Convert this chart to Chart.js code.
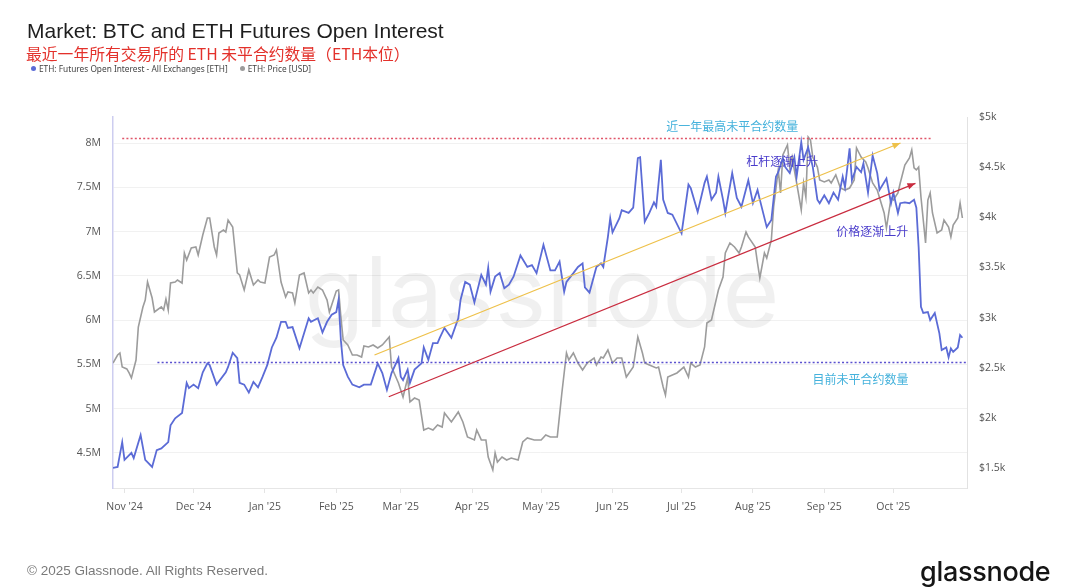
<!DOCTYPE html>
<html>
<head>
<meta charset="utf-8">
<script src="https://cdn.jsdelivr.net/npm/chart.js@4.4.1/dist/chart.umd.min.js"></script>
<style>
html,body{margin:0;padding:0;background:#fff;width:1079px;height:588px;overflow:hidden;}
#wrap{position:relative;width:1079px;height:588px;}
#c{position:absolute;left:0;top:0;}
.title{position:absolute;left:27px;top:19px;font:21px "Liberation Sans",Arial,sans-serif;color:#1e1e1e;white-space:nowrap;}
.sub{position:absolute;left:26px;top:42px;font:15.8px "Noto Sans CJK SC","Noto Sans",sans-serif;color:#e3312b;white-space:nowrap;}
.legend{position:absolute;left:31px;top:63px;font:8.3px "Noto Sans","Open Sans",sans-serif;color:#444;white-space:nowrap;}
.legend span.dot{display:inline-block;width:5px;height:5px;border-radius:50%;margin-right:3px;vertical-align:1px;}
.legend span.item{margin-right:12px;}
.foot{position:absolute;left:27px;top:563px;font:13.5px "Liberation Sans",Arial,sans-serif;color:#7a7a7a;white-space:nowrap;}
.logo{position:absolute;left:920px;top:555px;font:500 27px "Inter","Lato",sans-serif;color:#151515;letter-spacing:-0.3px;white-space:nowrap;}
</style>
</head>
<body>
<div id="wrap">
<canvas id="c" width="1079" height="588"></canvas>
<div class="title">Market: BTC and ETH Futures Open Interest</div>
<div class="sub">最近一年所有交易所的 ETH 未平合约数量（ETH本位）</div>
<div class="legend"><span class="item"><span class="dot" style="background:#5b6bd6"></span>ETH: Futures Open Interest - All Exchanges [ETH]</span><span class="item"><span class="dot" style="background:#9b9b9b"></span>ETH: Price [USD]</span></div>
<div class="foot">© 2025 Glassnode. All Rights Reserved.</div>
<div class="logo">glassnode</div>
</div>
<script>
// x values are days since 2024-11-01
const monthTickDays = [0,30,61,92,120,151,181,212,242,273,304,334];
const monthTickLabels = ["Nov '24","Dec '24","Jan '25","Feb '25","Mar '25","Apr '25","May '25","Jun '25","Jul '25","Aug '25","Sep '25","Oct '25"];
const oiTicks = [4.5,5,5.5,6,6.5,7,7.5,8];
const priceTicks = [1500,2000,2500,3000,3500,4000,4500,5000];

// ETH futures open interest, millions of ETH
const oiDays = [
 -5,-3,-1,0,3,4,7,9,12,14,
 16,19,20,22,25,27,28,30,32,34,
 36,37,40,44,45,47,49,50,52,54,
 56,58,60,62,64,66,68,70,71,73,
 76,80,81,84,86,88,90,92,93,94,
 95,97,99,102,104,107,110,112,114,116,
 119,120,121,123,124,126,129,130,132,134,
 136,137,139,142,145,146,148,150,152,155,
 157,158,159,161,163,165,167,169,172,175,
 177,179,182,185,187,189,191,192,195,197,
 199,200,202,205,207,208,210,211,212,215,
 216,219,221,223,224,226,228,230,231,233,
 234,236,238,242,245,246,249,252,253,255,
 257,258,260,261,264,266,268,271,273,275,
 276,279,281,283,284,286,287,289,291,292,
 294,295,297,299,301,302,304,306,308,310,
 312,313,315,316,318,320,321,323,325,327,
 328,331,333,334,336,337,339,341,343,344,
 345,346,347,349,350,352,354,355,357,358,
 359,360,362,363,364];
const oiValues = [
 4.33,4.34,4.62,4.42,4.50,4.44,4.70,4.42,4.34,4.53,
 4.55,4.62,4.81,4.89,4.95,5.29,5.23,5.27,5.23,5.41,
 5.51,5.49,5.27,5.41,5.47,5.63,5.57,5.29,5.27,5.18,
 5.30,5.24,5.36,5.49,5.69,5.80,5.98,5.98,5.91,5.92,
 5.68,6.02,5.98,6.02,5.86,5.98,6.06,6.09,6.23,5.77,
 5.49,5.36,5.27,5.24,5.27,5.27,5.51,5.40,5.21,5.40,
 5.57,5.36,5.32,5.44,5.29,5.44,5.51,5.69,5.55,5.74,
 5.74,5.80,5.91,5.80,6.02,6.23,6.43,6.40,6.20,6.51,
 6.40,6.59,6.32,6.49,6.53,6.36,6.40,6.49,6.73,6.60,
 6.62,6.53,6.85,6.56,6.56,6.66,6.32,6.43,6.53,6.60,
 6.64,6.37,6.31,6.60,6.64,6.60,6.94,7.15,6.99,7.15,
 7.24,7.21,7.27,7.83,7.84,7.11,7.21,7.33,7.28,7.81,
 7.36,7.21,7.19,6.98,7.53,7.49,7.22,7.55,7.62,7.36,
 7.44,7.62,7.36,7.21,7.66,7.38,7.28,7.58,7.32,7.47,
 7.36,7.05,7.13,7.62,7.67,7.83,7.73,7.66,7.84,7.62,
 8.01,7.81,7.95,7.73,7.36,7.32,7.41,7.32,7.44,7.36,
 7.62,7.50,7.94,7.58,7.73,7.67,7.77,7.44,7.86,7.66,
 7.47,7.60,7.32,7.44,7.21,7.32,7.33,7.32,7.36,7.27,
 6.82,6.15,6.08,6.09,6.00,6.08,5.85,5.66,5.69,5.58,
 5.68,5.64,5.69,5.83,5.80];

// ETH price, USD
const priceDays = [
 -5,-3,-2,-1,1,2,3,5,6,8,
 9,10,12,13,16,17,18,19,20,22,
 23,25,26,27,29,31,32,34,36,37,
 39,40,41,43,44,45,47,49,50,52,
 54,56,58,59,61,63,65,66,68,70,
 71,73,74,76,78,80,81,82,84,86,
 88,89,92,93,94,95,97,99,101,103,
 104,106,108,110,112,115,116,119,121,123,
 124,126,128,130,132,134,136,138,139,142,
 145,147,149,152,153,155,157,158,160,161,
 162,164,166,168,171,173,175,178,181,183,
 185,188,190,192,193,195,197,199,201,204,
 205,207,208,210,212,214,216,218,221,223,
 225,226,228,231,232,234,235,236,238,240,
 243,245,246,248,250,252,253,255,258,260,
 261,263,265,267,268,270,271,274,275,276,
 278,279,281,282,284,285,286,288,289,290,
 292,294,295,296,297,298,299,301,302,304,
 306,307,309,311,313,315,317,318,320,322,
 323,325,327,330,331,333,334,336,337,339,
 341,342,343,344,345,346,347,348,349,350,
 351,353,355,356,358,359,360,362,363,364];
const priceValues = [
 2547,2627,2647,2507,2488,2448,2398,2577,2906,3106,
 3175,3355,3195,3056,3106,3076,3185,3076,3345,3355,
 3375,3345,3644,3574,3694,3704,3624,3824,3993,3993,
 3704,3624,3843,3873,3853,3973,3903,3445,3425,3275,
 3475,3325,3375,3355,3345,3604,3624,3674,3355,3205,
 3255,3245,3146,3425,3445,3245,3275,3245,3305,3275,
 3175,3056,3265,3275,3006,2777,2727,2627,2627,2607,
 2717,2707,2727,2697,2727,2807,2507,2348,2208,2398,
 2159,2198,2178,1879,1899,1879,1929,1909,2049,1959,
 2059,1959,1810,1780,1879,1780,1780,1610,1481,1650,
 1560,1610,1580,1600,1580,1760,1800,1780,1780,1830,
 1810,1810,2248,2647,2577,2647,2547,2478,2547,2597,
 2527,2607,2597,2677,2547,2597,2597,2408,2507,2807,
 2647,2547,2527,2498,2507,2308,2228,2408,2428,2448,
 2507,2408,2547,2507,2527,2707,2946,2976,3275,3405,
 3644,3744,3704,3644,3704,3853,3804,3704,3544,3395,
 3644,3594,3774,4103,4472,4242,4621,4721,4501,4601,
 4342,4073,4342,4202,4801,4771,4601,4501,4372,4352,
 4372,4342,4422,4292,4272,4292,4372,4691,4601,4551,
 4492,4342,4272,4043,3893,4192,4172,4242,4342,4521,
 4591,4671,4492,4472,4501,4202,3973,3744,4172,4242,
 4043,3843,3873,3973,3903,3804,3923,3993,4143,3993];

// annotations (in data units: day, OI millions)
const refLines = [
  {label:'近一年最高未平合约数量', value:8.06, from:-1, to:351, color:'#e0566a', textColor:'#45b2dc', textDay:235.4, textValue:8.19},
  {label:'目前未平合约数量', value:5.53, from:14.3, to:366, color:'#5a50cf', textColor:'#45b2dc', textDay:298.9, textValue:5.33}
];
const trendArrows = [
  {label:'杠杆逐渐上升', from:[108.6,5.605], to:[337.1,8.0], color:'#eec14a', textColor:'#4a3ccb', textDay:270.1, textValue:7.79},
  {label:'价格逐渐上升', from:[114.8,5.133], to:[343.6,7.545], color:'#c92c3f', textColor:'#4a3ccb', textDay:309.2, textValue:7.006}
];

const oiPoints = oiDays.map((d,i)=>({x:d,y:oiValues[i]}));
const pricePoints = priceDays.map((d,i)=>({x:d,y:priceValues[i]}));

const watermark = {
  id:'watermark',
  beforeDatasetsDraw(chart){
    const {ctx, chartArea:a} = chart;
    ctx.save();
    ctx.font = '100px "Inter","Lato",sans-serif';
    const w = ctx.measureText('glassnode').width;
    const size = 100*475/w;
    ctx.font = size+'px "Inter","Lato",sans-serif';
    ctx.fillStyle = 'rgba(0,0,0,0.06)';
    ctx.textAlign = 'center';
    ctx.textBaseline = 'alphabetic';
    ctx.fillText('glassnode', (a.left+a.right)/2 + 2, 327);
    ctx.restore();
  }
};

const annot = {
  id:'annot',
  afterDatasetsDraw(chart){
    const {ctx} = chart;
    const xs = chart.scales.x, ys = chart.scales.y;
    ctx.save();
    ctx.font = '12px "Noto Sans CJK SC",sans-serif';
    ctx.textBaseline = 'middle';
    ctx.textAlign = 'left';
    refLines.forEach(r=>{
      const y = Math.round(ys.getPixelForValue(r.value))+0.5;
      ctx.strokeStyle = r.color; ctx.lineWidth = 1.3; ctx.setLineDash([2,2.2]);
      ctx.beginPath(); ctx.moveTo(xs.getPixelForValue(r.from), y); ctx.lineTo(xs.getPixelForValue(r.to), y); ctx.stroke();
      ctx.setLineDash([]);
      ctx.fillStyle = r.textColor;
      ctx.fillText(r.label, xs.getPixelForValue(r.textDay), ys.getPixelForValue(r.textValue));
    });
    trendArrows.forEach(a=>{
      const x1 = xs.getPixelForValue(a.from[0]), y1 = ys.getPixelForValue(a.from[1]);
      const x2 = xs.getPixelForValue(a.to[0]), y2 = ys.getPixelForValue(a.to[1]);
      ctx.strokeStyle = a.color; ctx.fillStyle = a.color; ctx.lineWidth = 1.3;
      ctx.beginPath(); ctx.moveTo(x1,y1); ctx.lineTo(x2,y2); ctx.stroke();
      const ang = Math.atan2(y2-y1, x2-x1), L = 8, W = 3.2;
      ctx.beginPath();
      ctx.moveTo(x2,y2);
      ctx.lineTo(x2 - L*Math.cos(ang) + W*Math.sin(ang), y2 - L*Math.sin(ang) - W*Math.cos(ang));
      ctx.lineTo(x2 - L*Math.cos(ang) - W*Math.sin(ang), y2 - L*Math.sin(ang) + W*Math.cos(ang));
      ctx.closePath(); ctx.fill();
      ctx.fillStyle = a.textColor;
      ctx.fillText(a.label, xs.getPixelForValue(a.textDay), ys.getPixelForValue(a.textValue));
    });
    ctx.restore();
  }
};

const tickFont = {family:'"Open Sans","Noto Sans",sans-serif', size:10.5};

new Chart(document.getElementById('c'), {
  type:'line',
  data:{datasets:[
    {label:'ETH: Futures Open Interest - All Exchanges [ETH]', data:oiPoints, yAxisID:'y', borderColor:'#5b6bd6', borderWidth:1.8, pointRadius:0, tension:0, fill:false},
    {label:'ETH: Price [USD]', data:pricePoints, yAxisID:'y1', borderColor:'#9c9c9c', borderWidth:1.6, pointRadius:0, tension:0, fill:false}
  ]},
  options:{
    responsive:false, animation:false, devicePixelRatio:1,
    layout:{padding:{top:117,left:0,right:0,bottom:0}},
    plugins:{legend:{display:false}, tooltip:{enabled:false}},
    scales:{
      x:{type:'linear', min:-5, max:366,
        afterBuildTicks:s=>{s.ticks = monthTickDays.map(v=>({value:v}));},
        afterFit:s=>{s.height = 100;},
        ticks:{callback:(v,i)=>monthTickLabels[i], autoSkip:false, maxRotation:0, padding:8, color:'#555', font:tickFont},
        grid:{drawOnChartArea:false, drawTicks:true, tickLength:5, color:'#e4e4e4'},
        border:{color:'#e6e6e6'}},
      y:{position:'left', min:4.102, max:8.294,
        afterBuildTicks:s=>{s.ticks = oiTicks.map(v=>({value:v}));},
        afterFit:s=>{s.width = 113;},
        ticks:{callback:v=>v+'M', padding:12, color:'#555', font:tickFont},
        grid:{color:'#f1f1f1', drawTicks:false},
        border:{color:'#cdcdf0', width:1.5}},
      y1:{position:'right', min:1301, max:5000,
        afterBuildTicks:s=>{s.ticks = priceTicks.map(v=>({value:v}));},
        afterFit:s=>{s.width = 112;},
        ticks:{callback:v=>'$'+(v/1000)+'k', padding:12, color:'#555', font:tickFont},
        grid:{drawOnChartArea:false, drawTicks:false},
        border:{color:'#e2e2e2'}}
    }
  },
  plugins:[watermark, annot]
});
</script>
</body>
</html>
